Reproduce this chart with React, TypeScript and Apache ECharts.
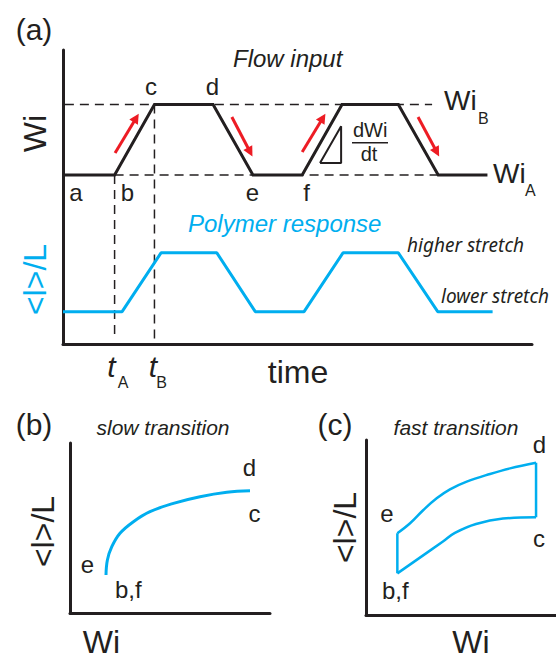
import React, { useEffect, useRef } from "react";
import * as echarts from "echarts";

// ---- Panel (a): flow input (time units 0..100, Wi units 0..100) ----
const TIME_FLOW = [0, 11, 19.5, 32, 40.5, 51, 59.5, 71.5, 80, 90.5];
const WI_FLOW = [57.5, 57.5, 81.5, 81.5, 57.5, 57.5, 81.5, 81.5, 57.5, 57.5];
// polymer response
const TIME_RESP = [0, 12.6, 20.9, 32.8, 41, 51.4, 59.7, 71.5, 79.9, 91.6];
const STRETCH_RESP = [11, 11, 31, 31, 11, 11, 31, 31, 11, 11];
// reference levels
const WI_B = 81.5;
const WI_A = 57.5;
const WIB_DASH_X = [0.4, 78.7];
const WIA_DASH_X = [11, 80];
const T_A = 11;
const T_B = 19.5;
const AXIS_FLOOR = 1.7;
// red arrows (start, end)
const ARROWS = [
  [[11.1, 65], [15.6, 76.9]],
  [[36, 77.2], [39.9, 65.3]],
  [[51, 65.3], [55.4, 76.9]],
  [[75.7, 77.2], [79.7, 65.3]],
];
// slope triangle
const TRI_X = [54.8, 59.3, 59.3, 54.8];
const TRI_Y = [61.6, 61.6, 74.1, 61.6];

// ---- Panel (b): slow transition ----
const SLOW_WI = [18, 18.7, 20.9, 25, 31.7, 40, 51.7, 65, 78.4, 90];
const SLOW_L = [22.4, 31.2, 39, 46.9, 53.7, 59.6, 64.5, 68.4, 71, 71.9];

// ---- Panel (c): fast transition ----
const UPPER_WI = [16.5, 23.2, 30.2, 37.2, 44.2, 53, 65.3, 75.8, 89.5];
const UPPER_L = [46.7, 52.4, 60, 66.7, 71.8, 76.2, 80.6, 83.8, 87];
const LOWER_WI = [89.5, 72.1, 57.9, 46.8, 40.5, 16.5];
const LOWER_L = [55.8, 55.1, 52, 46.9, 42, 23.8];

const BLACK = "#231F20";
const BLUE = "#00AEEF";
const RED = "#ED1C24";
const SANS = "Liberation Sans, Arial, sans-serif";

const zip = (xs: number[], ys: number[]) => xs.map((x, i) => [x, ys[i]]);

function txt(
  text: string,
  x: number,
  y: number,
  size: number,
  opts: any = {}
) {
  return {
    type: "text",
    x,
    y,
    rotation: opts.rotation || 0,
    silent: true,
    style: {
      text,
      fill: opts.color || BLACK,
      fontSize: size,
      fontFamily: opts.family || SANS,
      fontStyle: opts.italic ? "italic" : "normal",
      align: opts.align || "center",
      verticalAlign: "middle",
    },
  };
}

export default function App() {
  const ref = useRef<HTMLDivElement>(null);
  useEffect(() => {
    document.body.style.margin = "0";
    const chart = echarts.init(ref.current!, null, { renderer: "svg" });
    const axisLine = { show: true, onZero: false, lineStyle: { color: BLACK, width: 3 } };
    const mkAxis = (gi: number) => ({
      type: "value",
      gridIndex: gi,
      min: 0,
      max: 100,
      axisLine,
      axisTick: { show: false },
      axisLabel: { show: false },
      splitLine: { show: false },
    });
    const dash = { color: BLACK, width: 1.5, type: [9, 6] };
    const base = { type: "line", showSymbol: false, symbol: "none", silent: true };

    const option: any = {
      animation: false,
      backgroundColor: "#ffffff",
      grid: [
        { left: 63, top: 50, width: 469, height: 294 },
        { left: 70, top: 443, width: 200, height: 170 },
        { left: 366, top: 440, width: 190, height: 175 },
      ],
      xAxis: [mkAxis(0), mkAxis(1), mkAxis(2)],
      yAxis: [mkAxis(0), mkAxis(1), mkAxis(2)],
      series: [
        // dashed guide lines
        { ...base, xAxisIndex: 0, yAxisIndex: 0, lineStyle: dash, data: WIB_DASH_X.map((x) => [x, WI_B]) },
        { ...base, xAxisIndex: 0, yAxisIndex: 0, lineStyle: dash, data: WIA_DASH_X.map((x) => [x, WI_A]) },
        { ...base, xAxisIndex: 0, yAxisIndex: 0, lineStyle: dash, data: [[T_A, WI_A], [T_A, AXIS_FLOOR]] },
        { ...base, xAxisIndex: 0, yAxisIndex: 0, lineStyle: dash, data: [[T_B, WI_B], [T_B, AXIS_FLOOR]] },
        // flow input
        { ...base, xAxisIndex: 0, yAxisIndex: 0, lineStyle: { color: BLACK, width: 3, join: "miter" }, data: zip(TIME_FLOW, WI_FLOW) },
        // slope triangle
        { ...base, xAxisIndex: 0, yAxisIndex: 0, lineStyle: { color: BLACK, width: 2 }, data: zip(TRI_X, TRI_Y) },
        // polymer response
        { ...base, xAxisIndex: 0, yAxisIndex: 0, lineStyle: { color: BLUE, width: 3 }, data: zip(TIME_RESP, STRETCH_RESP) },
        // red arrows
        {
          type: "lines",
          coordinateSystem: "cartesian2d",
          xAxisIndex: 0,
          yAxisIndex: 0,
          silent: true,
          symbol: ["none", "triangle"],
          symbolSize: [0, 10],
          lineStyle: { color: RED, width: 3, opacity: 1 },
          data: ARROWS.map((c) => ({ coords: c })),
        },
        // panel b
        { ...base, xAxisIndex: 1, yAxisIndex: 1, smooth: 0.4, lineStyle: { color: BLUE, width: 3 }, data: zip(SLOW_WI, SLOW_L) },
        // panel c
        { ...base, xAxisIndex: 2, yAxisIndex: 2, smooth: 0.4, lineStyle: { color: BLUE, width: 2.5 }, data: zip(UPPER_WI, UPPER_L) },
        { ...base, xAxisIndex: 2, yAxisIndex: 2, smooth: 0.4, lineStyle: { color: BLUE, width: 2.5 }, data: zip(LOWER_WI, LOWER_L) },
        {
          ...base,
          xAxisIndex: 2,
          yAxisIndex: 2,
          lineStyle: { color: BLUE, width: 2.5 },
          data: [
            [UPPER_WI[UPPER_WI.length - 1], UPPER_L[UPPER_L.length - 1]],
            [LOWER_WI[0], LOWER_L[0]],
          ],
        },
        {
          ...base,
          xAxisIndex: 2,
          yAxisIndex: 2,
          lineStyle: { color: BLUE, width: 2.5 },
          data: [
            [LOWER_WI[LOWER_WI.length - 1], LOWER_L[LOWER_L.length - 1]],
            [UPPER_WI[0], UPPER_L[0]],
          ],
        },
      ],
      graphic: [
        // panel a
        txt("(a)", 34, 29, 30),
        txt("Flow input", 233, 58.5, 24, { italic: true, align: "left" }),
        txt("c", 151, 86.5, 24),
        txt("d", 212.5, 86.5, 24),
        txt("a", 76, 192, 24),
        txt("b", 127.5, 192, 24),
        txt("e", 252.5, 192, 24),
        txt("f", 306.5, 192, 24),
        txt("Wi", 444, 100, 28, { align: "left" }),
        txt("B", 478, 118, 16, { align: "left" }),
        txt("Wi", 493, 173, 28, { align: "left" }),
        txt("A", 525, 190, 16, { align: "left" }),
        txt("dWi", 353, 130, 20, { align: "left" }),
        {
          type: "line",
          silent: true,
          shape: { x1: 352, y1: 142.7, x2: 388, y2: 142.7 },
          style: { stroke: BLACK, lineWidth: 1.5 },
        },
        txt("dt", 369, 154, 20),
        txt("Wi", 34.5, 133.5, 32, { rotation: Math.PI / 2 }),
        txt("<l>/L", 34.5, 279.5, 32, { rotation: Math.PI / 2, color: BLUE }),
        txt("Polymer response", 188, 223.5, 24, { italic: true, align: "left", color: BLUE }),
        txt("higher stretch", 407, 245, 19, { italic: true, align: "left", family: "Noto Sans" }),
        txt("lower stretch", 441, 296, 19, { italic: true, align: "left", family: "Noto Sans" }),
        txt("time", 298, 372, 32),
        txt("t", 111.5, 366, 30, { italic: true }),
        txt("A", 123, 382.5, 16),
        txt("t", 153, 366, 30, { italic: true }),
        txt("B", 161.5, 382.5, 16),
        // panel b
        txt("(b)", 34, 424, 30),
        txt("slow transition", 163, 427.5, 21, { italic: true }),
        txt("d", 249.5, 467.5, 24),
        txt("c", 254.5, 513.5, 24),
        txt("e", 87.5, 564.5, 24),
        txt("b,f", 115, 589.5, 24, { align: "left" }),
        txt("<l>/L", 42.5, 531.5, 32, { rotation: Math.PI / 2 }),
        txt("Wi", 101.5, 642, 32),
        // panel c
        txt("(c)", 335, 424, 30),
        txt("fast transition", 456, 427.5, 21, { italic: true }),
        txt("d", 539.5, 444.5, 24),
        txt("c", 539, 538.5, 24),
        txt("e", 387, 513.5, 24),
        txt("b,f", 382, 590, 24, { align: "left" }),
        txt("<l>/L", 345, 527.5, 32, { rotation: Math.PI / 2 }),
        txt("Wi", 471, 642, 32),
      ],
    };
    chart.setOption(option);
    return () => chart.dispose();
  }, []);
  return <div ref={ref} style={{ width: 556, height: 659 }} />;
}
